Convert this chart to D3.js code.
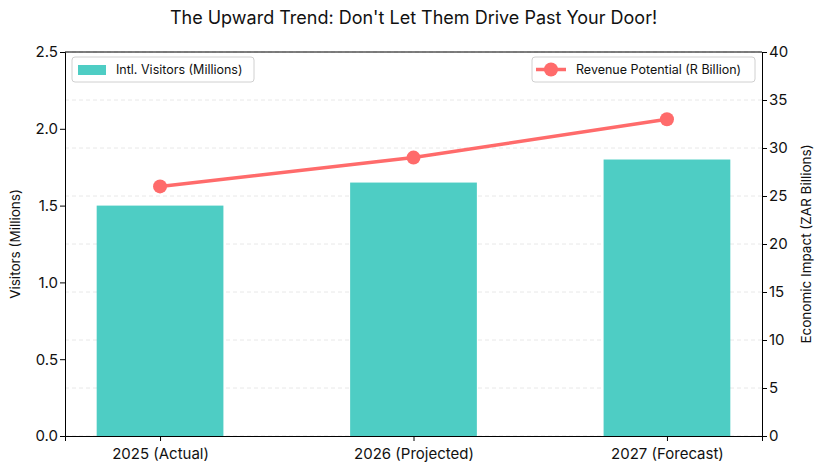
<!DOCTYPE html>
<html>
<head>
<meta charset="utf-8">
<script src="https://cdn.jsdelivr.net/npm/d3@7"></script>
<style>
  body { margin: 0; background: #fff; }
  text { font-family: Inter, "Open Sans", sans-serif; fill: #111; }
</style>
</head>
<body>
<div id="chart"></div>
<script>
const categories = ['2025 (Actual)', '2026 (Projected)', '2027 (Forecast)']
const visitors = [1.5, 1.65, 1.8]
const revenue = [26, 29, 33]
const leftTicks = [0, 0.5, 1.0, 1.5, 2.0, 2.5]
const rightTicks = [0, 5, 10, 15, 20, 25, 30, 35, 40]

const W = 823, H = 473
const margin = { left: 65, right: 61, top: 52, bottom: 37 }
const width = W - margin.left - margin.right
const height = H - margin.top - margin.bottom

const svg = d3.select('#chart')
    .append('svg')
    .attr('width', W)
    .attr('height', H)

const g = svg.append('g')
    .attr('transform', `translate(${margin.left}, ${margin.top})`)

// categorical positions, like matplotlib: xlim -0.375 .. 2.375
const x = d3.scaleLinear().domain([-0.375, 2.375]).range([0, width])
const yL = d3.scaleLinear().domain([0, 2.5]).range([height, 0])
const yR = d3.scaleLinear().domain([0, 40]).range([height, 0])

// grid from the right axis
g.append('g')
    .selectAll('line')
    .data(rightTicks)
    .join('line')
    .attr('x1', 0)
    .attr('x2', width)
    .attr('y1', d => yR(d))
    .attr('y2', d => yR(d))
    .style('stroke', '#ddd')
    .style('stroke-width', 0.8)
    .style('stroke-dasharray', '4,3')
    .style('opacity', 0.8)

const barW = x(0.5) - x(0)
g.append('g')
    .selectAll('rect')
    .data(visitors)
    .join('rect')
    .attr('x', (d, i) => x(i) - barW / 2)
    .attr('y', d => yL(d))
    .attr('width', barW)
    .attr('height', d => height - yL(d))
    .style('fill', '#4ECDC4')

const line = d3.line()
    .x((d, i) => x(i))
    .y(d => yR(d))

g.append('path')
    .datum(revenue)
    .attr('d', line)
    .style('fill', 'none')
    .style('stroke', '#FF6B6B')
    .style('stroke-width', 3.5)

g.append('g')
    .selectAll('circle')
    .data(revenue)
    .join('circle')
    .attr('cx', (d, i) => x(i))
    .attr('cy', d => yR(d))
    .attr('r', 7)
    .style('fill', '#FF6B6B')

// axes
const xAxis = g.append('g')
    .attr('transform', `translate(0, ${height})`)
    .call(d3.axisBottom(x).tickValues([0, 1, 2]).tickFormat(i => categories[i]).tickSizeOuter(0).tickSize(5))
const leftAxis = g.append('g')
    .call(d3.axisLeft(yL).tickValues(leftTicks).tickFormat(d3.format('.1f')).tickSizeOuter(0).tickSize(5))
const rightAxis = g.append('g')
    .attr('transform', `translate(${width}, 0)`)
    .call(d3.axisRight(yR).tickValues(rightTicks).tickSizeOuter(0).tickSize(5))

;[xAxis, leftAxis, rightAxis].forEach(a => {
    a.select('.domain').style('stroke', '#000').style('stroke-width', 1)
    a.selectAll('.tick line').style('stroke', '#000')
    a.selectAll('.tick text').style('font-size', '15px').style('fill', '#111')
})
xAxis.selectAll('.tick text').attr('dy', '1.0em')
leftAxis.selectAll('.tick text').attr('x', -7)
rightAxis.selectAll('.tick text').attr('x', 7)

// top spine
g.append('line')
    .attr('x1', 0).attr('x2', width)
    .attr('y1', 0).attr('y2', 0)
    .style('stroke', '#000')

// titles
svg.append('text')
    .attr('x', margin.left + width / 2)
    .attr('y', 24)
    .attr('text-anchor', 'middle')
    .style('font-size', '18px')
    .text("The Upward Trend: Don't Let Them Drive Past Your Door!")

svg.append('text')
    .attr('transform', `translate(20, ${margin.top + height / 2}) rotate(-90)`)
    .attr('text-anchor', 'middle')
    .style('font-size', '13.5px')
    .text('Visitors (Millions)')

svg.append('text')
    .attr('transform', `translate(811, ${margin.top + height / 2}) rotate(-90)`)
    .attr('text-anchor', 'middle')
    .style('font-size', '13.5px')
    .text('Economic Impact (ZAR Billions)')

// legends
const legL = g.append('g').attr('transform', 'translate(7, 5)')
legL.append('rect')
    .attr('width', 182).attr('height', 25).attr('rx', 3)
    .style('fill', '#fff').style('stroke', '#ccc').style('opacity', 0.9)
legL.append('rect')
    .attr('x', 6).attr('y', 8).attr('width', 28).attr('height', 10)
    .style('fill', '#4ECDC4')
legL.append('text')
    .attr('x', 44).attr('y', 17)
    .style('font-size', '12.5px')
    .text('Intl. Visitors (Millions)')

const legR = g.append('g').attr('transform', `translate(${width - 230}, 5)`)
legR.append('rect')
    .attr('width', 223).attr('height', 25).attr('rx', 3)
    .style('fill', '#fff').style('stroke', '#ccc').style('opacity', 0.9)
legR.append('line')
    .attr('x1', 4).attr('x2', 34).attr('y1', 12.5).attr('y2', 12.5)
    .style('stroke', '#FF6B6B').style('stroke-width', 3.5)
legR.append('circle')
    .attr('cx', 19).attr('cy', 12.5).attr('r', 7)
    .style('fill', '#FF6B6B')
legR.append('text')
    .attr('x', 44).attr('y', 17)
    .style('font-size', '12.5px')
    .text('Revenue Potential (R Billion)')
</script>
</body>
</html>
